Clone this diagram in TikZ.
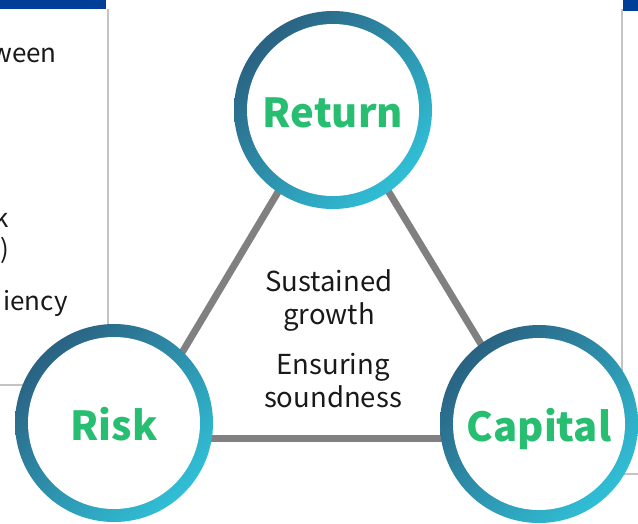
\documentclass[tikz,border=0pt]{standalone}
\usepackage{fontspec}
\setmainfont{Noto Sans CJK JP}
\usetikzlibrary{backgrounds,positioning}
\definecolor{ringdark}{HTML}{2A6282}
\definecolor{ringlight}{HTML}{30BFD6}
\definecolor{hubgreen}{HTML}{28BE72}
\definecolor{barblue}{HTML}{003E98}
\definecolor{framegray}{HTML}{C4C4C4}
\definecolor{linkgray}{HTML}{808080}
\tikzstyle{hub} = [circle, minimum size=198pt, inner sep=0pt, outer sep=0pt, text=hubgreen,
  font=\fontsize{40}{48}\selectfont\bfseries, text height=34pt, text depth=0pt,
  path picture={\shade[left color=ringdark, right color=ringlight, shading angle=45]
    (path picture bounding box.south west) rectangle (path picture bounding box.north east);
    \fill[white] (path picture bounding box.center) circle (86pt);}]
\tikzstyle{link} = [draw=linkgray, line width=7pt]
\tikzstyle{aim} = [align=center, inner sep=0pt, font=\fontsize{27.5}{33}\selectfont, text=black!90]
\tikzstyle{frame} = [draw=framegray, line width=2pt]
\tikzstyle{note} = [anchor=base east, inner sep=0pt, font=\fontsize{26}{33}\selectfont, text=black!90]

\begin{document}
\begin{tikzpicture}[x=1pt, y=-1pt]
\useasboundingbox (0,0) rectangle (638,523);

% panels at the sides
\fill[barblue] (0,0) rectangle (106,9);
\fill[barblue] (623,0) rectangle (638,11);
\draw[frame] (108,9) -- (108,385) -- (0,385);
\draw[frame] (622,9) -- (622,474) -- (638,474);

\node [note] (between) at (57,62) {ween};
\node [note] (risktail) at (9,227) {k};
\node [note] (paren) at (9,258) {)};
\node [note] (efficiency) at (68,310) {iency};

% the three hubs
\node [hub] (return) at (333,110) {Return};
\node [hub] (risk) at (114,423) {Risk};
\node [hub] (capital) at (539,424) {Capital};

\node [aim] (growth) at (329,300) {Sustained\\growth};
\node [aim] (soundness) at (333,381) {Ensuring\\soundness};

\begin{scope}[on background layer]
\draw [link] ([yshift=10pt]return.center) -- ([xshift=17pt, yshift=-15pt]risk.center);
\draw [link] ([yshift=10pt]return.center) -- ([xshift=-1pt, yshift=-14pt]capital.center);
\draw [link] ([xshift=17pt, yshift=-15pt]risk.center) -- ([xshift=-1pt, yshift=-14pt]capital.center);
\end{scope}
\end{tikzpicture}
\end{document}
